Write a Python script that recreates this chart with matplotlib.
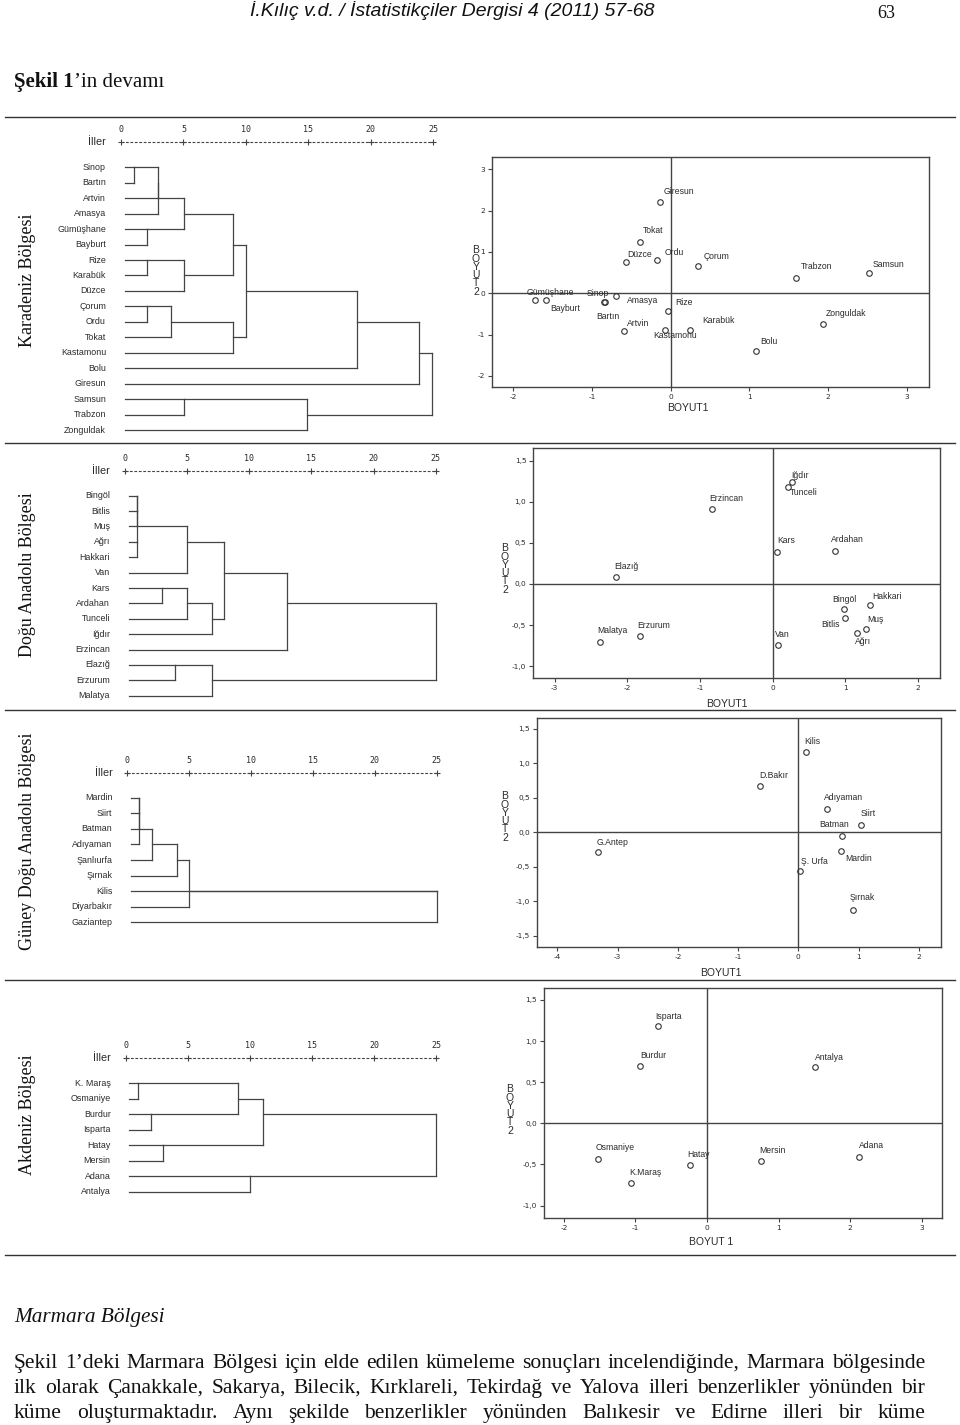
import matplotlib
matplotlib.use('Agg')
import matplotlib.pyplot as plt
from matplotlib.transforms import offset_copy

W, H = 960, 1425
LINE = '#444444'
INK = '#2a2a2a'

# ---------------- data ----------------
# Karadeniz
kd_leaves = ['Sinop', 'Bartın', 'Artvin', 'Amasya', 'Gümüşhane', 'Bayburt', 'Rize',
             'Karabük', 'Düzce', 'Çorum', 'Ordu', 'Tokat', 'Kastamonu', 'Bolu',
             'Giresun', 'Samsun', 'Trabzon', 'Zonguldak']
# (node a, node b, distance) ; leaves are 0..n-1, merge k becomes node n+k
kd_merges = [(0, 1, 1.04), (18, 2, 2.99), (19, 3, 2.99), (4, 5, 2.05), (20, 21, 5.04),
             (6, 7, 2.05), (23, 8, 5.04), (22, 24, 8.99), (9, 10, 2.05), (26, 11, 4.0),
             (27, 12, 8.99), (25, 28, 9.98), (29, 13, 18.92), (30, 14, 23.85),
             (15, 16, 5.04), (32, 17, 14.91), (31, 33, 24.87)]
kd_names = ['Giresun', 'Tokat', 'Düzce', 'Ordu', 'Çorum', 'Trabzon', 'Samsun', 'Gümüşhane',
            'Bayburt', 'Sinop', 'Bartın', 'Amasya', 'Rize', 'Artvin', 'Kastamonu',
            'Karabük', 'Bolu', 'Zonguldak']
kd_x = [-0.13, -0.39, -0.57, -0.18, 0.35, 1.59, 2.52, -1.73, -1.59, -0.85, -0.84, -0.70,
        -0.04, -0.59, -0.07, 0.24, 1.09, 1.94]
kd_y = [2.20, 1.25, 0.76, 0.81, 0.65, 0.36, 0.48, -0.17, -0.17, -0.20, -0.21, -0.06,
        -0.44, -0.92, -0.90, -0.90, -1.40, -0.75]

# Dogu Anadolu
da_leaves = ['Bingöl', 'Bitlis', 'Muş', 'Ağrı', 'Hakkari', 'Van', 'Kars', 'Ardahan',
             'Tunceli', 'Iğdır', 'Erzincan', 'Elazığ', 'Erzurum', 'Malatya']
da_merges = [(0, 1, 0.99), (3, 4, 0.99), (14, 2, 0.99), (16, 15, 0.99), (17, 5, 5.02),
             (6, 7, 3.0), (19, 8, 5.02), (20, 9, 7.03), (18, 21, 7.99), (22, 10, 13.0),
             (11, 12, 4.02), (24, 13, 7.03), (23, 25, 25.0)]
da_names = ['Iğdır', 'Tunceli', 'Erzincan', 'Kars', 'Ardahan', 'Elazığ', 'Bingöl', 'Hakkari',
            'Bitlis', 'Muş', 'Ağrı', 'Van', 'Erzurum', 'Malatya']
da_x = [0.26, 0.21, -0.83, 0.06, 0.86, -2.16, 0.98, 1.34, 1.00, 1.28, 1.16, 0.08, -1.82, -2.37]
da_y = [1.24, 1.18, 0.91, 0.39, 0.40, 0.09, -0.30, -0.26, -0.42, -0.55, -0.60, -0.74, -0.63, -0.71]

# Guney Dogu Anadolu
gd_leaves = ['Mardin', 'Siirt', 'Batman', 'Adıyaman', 'Şanlıurfa', 'Şırnak', 'Kilis',
             'Diyarbakır', 'Gaziantep']
gd_merges = [(0, 1, 0.97), (9, 2, 0.97), (10, 3, 0.97), (11, 4, 2.02), (12, 5, 3.99),
             (7, 13, 5.01), (6, 14, 25.0), (15, 8, 25.0)]
gd_names = ['Kilis', 'D.Bakır', 'Adıyaman', 'Siirt', 'Batman', 'Mardin', 'G.Antep',
            'Ş. Urfa', 'Şırnak']
gd_x = [0.12, -0.64, 0.48, 1.04, 0.73, 0.70, -3.32, 0.03, 0.90]
gd_y = [1.16, 0.67, 0.34, 0.10, -0.05, -0.27, -0.28, -0.56, -1.12]

# Akdeniz
ak_leaves = ['K. Maraş', 'Osmaniye', 'Burdur', 'Isparta', 'Hatay', 'Mersin', 'Adana', 'Antalya']
ak_merges = [(0, 1, 1.0), (2, 3, 2.04), (8, 9, 9.02), (4, 5, 3.03), (10, 11, 11.03),
             (6, 7, 10.0), (12, 13, 25.0)]
ak_names = ['Isparta', 'Burdur', 'Antalya', 'Osmaniye', 'K.Maraş', 'Hatay', 'Mersin', 'Adana']
ak_x = [-0.68, -0.93, 1.51, -1.53, -1.06, -0.24, 0.76, 2.13]
ak_y = [1.18, 0.70, 0.69, -0.43, -0.73, -0.51, -0.46, -0.41]

regions = ['Karadeniz Bölgesi', 'Doğu Anadolu Bölgesi', 'Güney Doğu Anadolu Bölgesi',
           'Akdeniz Bölgesi']

# label offsets (pixels, left edge / vertical centre relative to the point, y down)
kd_off = [(3, -10.7), (2.3, -10.7), (1.7, -7.3), (8.3, -7.7), (5.3, -9.7), (5, -12),
          (3.3, -9), (-8, -7.7), (4.7, 7.7), (-17.3, -7.7), (-8, 15), (11, 4.3),
          (7.3, -8.7), (3, -8), (-11.7, 4.7), (12.7, -10), (3.7, -10), (2.3, -11)]
da_off = [(0, -6), (1.7, 6), (-3.3, -10.3), (0, -11.7), (-4.3, -11.3), (-1.3, -9.7),
          (-11.7, -9.3), (2.7, -8.7), (-23.7, 6.3), (1.7, -10), (-2.3, 7.7), (-3, -10),
          (-2.7, -10.7), (-3, -11.7)]
gd_off = [(-1.3, -11), (-0.7, -10.3), (-3.7, -11), (-0.7, -11.7), (-22.7, -11), (4.3, 7.7),
          (-1.3, -9), (0.7, -9.3), (-3.3, -12)]
ak_off = [(-3.3, -9.3), (-0.7, -10), (0, -9), (-1.7, -11), (-2, -10.7), (-2.3, -10.7),
          (-2.3, -10.3), (0, -11.7)]

fig = plt.figure(figsize=(W / 100, H / 100), dpi=100)


def px_axes(x0, y0, x1, y1):
    return fig.add_axes([x0 / W, 1 - y1 / H, (x1 - x0) / W, (y1 - y0) / H])


def ftext(x, y, s, **kw):
    return fig.text(x / W, 1 - y / H, s, **kw)


def draw_dendro(box, leaves, merges):
    x0, x25, y_first, y_last = box
    n = len(leaves)
    ax = px_axes(x0, y_first, x25, y_last)
    ax.set_xlim(0, 25)
    ax.set_ylim(n - 1, 0)
    ax.axis('off')
    rows = list(range(n))
    ends = [0.3] * n
    for a, b, h in merges:
        ra, rb = rows[a], rows[b]
        for node, r in ((a, ra), (b, rb)):
            ax.plot([ends[node], h], [r, r], color=LINE, lw=0.9, clip_on=False)
        ax.plot([h, h], [ra, rb], color=LINE, lw=0.9, clip_on=False)
        rows.append(ra + int((rb - ra) / 2))
        ends.append(h)
    for i, name in enumerate(leaves):
        ax.annotate(name, (0, i), xytext=(-15, 0), textcoords='offset pixels',
                    ha='right', va='center', fontsize=6.4, color=INK,
                    family='Liberation Sans')
    ticks = [0, 5, 10, 15, 20, 25]
    tr = offset_copy(ax.transData, fig=fig, x=0, y=25, units='dots')
    ax.plot([0, 25], [0, 0], color=LINE, lw=0.8, ls=(0, (2.5, 1.5)),
            transform=tr, clip_on=False)
    ax.plot(ticks, [0] * 6, '+', color=LINE, ms=5, mew=0.8, transform=tr, clip_on=False)
    for t in ticks:
        ax.annotate(str(t), (t, 0), xytext=(0, 37.5), textcoords='offset pixels',
                    ha='center', va='center', fontsize=6, color=INK,
                    family='DejaVu Sans Mono')
    ax.annotate('İller', (0, 0), xytext=(-15, 25), textcoords='offset pixels',
                ha='right', va='center', fontsize=7.8, color=INK, family='Liberation Sans')


def draw_scatter(box, xlim, ylim, xticks, yticks, ylabels, names, xs, ys, offs,
                 xlab, xlab_pos, ylab_pos):
    ax = px_axes(*box)
    ax.set_xlim(xlim)
    ax.set_ylim(ylim)
    ax.axhline(0, color=LINE, lw=1.0)
    ax.axvline(0, color=LINE, lw=1.0)
    ax.plot(xs, ys, 'o', mfc='none', mec='#333333', ms=4, mew=0.8)
    for name, x, y, (dx, dy) in zip(names, xs, ys, offs):
        ax.annotate(name, (x, y), xytext=(dx, -dy), textcoords='offset pixels',
                    ha='left', va='center', fontsize=6.2, color=INK, family='Liberation Sans')
    ax.set_xticks(xticks)
    ax.set_xticklabels([str(t) for t in xticks])
    ax.set_yticks(yticks)
    ax.set_yticklabels(ylabels)
    ax.tick_params(length=3, width=0.8, labelsize=5.3, pad=2, colors=LINE,
                   labelcolor=INK)
    for sp in ax.spines.values():
        sp.set_color(LINE)
        sp.set_linewidth(1.0)
    ftext(xlab_pos[0], xlab_pos[1], xlab, ha='center', va='center', fontsize=7.5,
          color=INK, family='Liberation Sans')
    ftext(ylab_pos[0], ylab_pos[1], 'B\nO\nY\nU\nT\n2', ha='center', va='center',
          fontsize=7.5, linespacing=0.78, color=INK, family='Liberation Sans')


# dendrograms
draw_dendro((121, 433.3, 167.3, 430), kd_leaves, kd_merges)
draw_dendro((125, 435.7, 495.7, 695.7), da_leaves, da_merges)
draw_dendro((127.3, 436.7, 797.7, 922.3), gd_leaves, gd_merges)
draw_dendro((125.7, 436, 1083.3, 1191.7), ak_leaves, ak_merges)


def comma(vals):
    return [('%.1f' % v).replace('.', ',') for v in vals]


draw_scatter((492.3, 156.7, 929.3, 387.3), (-2.267, 3.286), (-2.276, 3.307),
             [-2, -1, 0, 1, 2, 3], [-2, -1, 0, 1, 2, 3], ['-2', '-1', '0', '1', '2', '3'],
             kd_names, kd_x, kd_y, kd_off, 'BOYUT1', (688, 408), (476, 271))
yt = [-1.0, -0.5, 0.0, 0.5, 1.0, 1.5]
draw_scatter((533.3, 448.3, 940, 678.3), (-3.294, 2.303), (-1.147, 1.649),
             [-3, -2, -1, 0, 1, 2], yt, comma(yt),
             da_names, da_x, da_y, da_off, 'BOYUT1', (727, 704), (505, 569))
yt3 = [-1.5, -1.0, -0.5, 0.0, 0.5, 1.0, 1.5]
draw_scatter((536.7, 717.7, 940.7, 947.3), (-4.344, 2.363), (-1.667, 1.662),
             [-4, -3, -2, -1, 0, 1, 2], yt3, comma(yt3),
             gd_names, gd_x, gd_y, gd_off, 'BOYUT1', (721, 973), (505, 817))
draw_scatter((544, 987.7, 941.7, 1218.3), (-2.279, 3.281), (-1.154, 1.648),
             [-2, -1, 0, 1, 2, 3], yt, comma(yt),
             ak_names, ak_x, ak_y, ak_off, 'BOYUT 1', (711, 1242), (510, 1110))

# page frame lines
for yy in [117, 443, 710, 980, 1255]:
    fig.add_artist(plt.Line2D([5 / W, 955 / W], [1 - yy / H, 1 - yy / H],
                              color='#333333', lw=1.0))

# region titles
for name, yc in zip(regions, [280, 575, 841, 1115]):
    ftext(28, yc, name, rotation=90, ha='center', va='center', fontsize=13,
          family='Liberation Serif', color='#111111')

# header
ftext(452, 11, 'İ.Kılıç v.d. / İstatistikçiler Dergisi 4 (2011) 57-68', ha='center',
      va='center', fontsize=14, style='italic', family='Liberation Sans', color='#111111')
ftext(886, 14, '63', ha='center', va='center', fontsize=13, family='Liberation Serif',
      color='#111111')

r = fig.canvas.get_renderer()
t1 = ftext(14, 87, 'Şekil 1', ha='left', va='baseline', fontsize=15, weight='bold',
           family='Liberation Serif', color='#111111')
w1 = t1.get_window_extent(r).width
ftext(14 + w1, 87, '’in devamı', ha='left', va='baseline', fontsize=15,
      family='Liberation Serif', color='#111111')

ftext(14, 1322, 'Marmara Bölgesi', ha='left', va='baseline', fontsize=15.3, style='italic',
      family='Liberation Serif', color='#111111')

para = ['Şekil 1’deki Marmara Bölgesi için elde edilen kümeleme sonuçları incelendiğinde, Marmara bölgesinde',
        'ilk olarak Çanakkale, Sakarya, Bilecik, Kırklareli, Tekirdağ ve Yalova illeri benzerlikler yönünden bir',
        'küme oluşturmaktadır. Aynı şekilde benzerlikler yönünden Balıkesir ve Edirne illeri bir küme']
for line, yy in zip(para, [1368, 1393, 1418]):
    words = line.split()
    ts = [ftext(0, yy, wd, ha='left', va='baseline', fontsize=15.5, family='Liberation Serif',
                color='#111111') for wd in words]
    ws = [t.get_window_extent(r).width for t in ts]
    gap = (925 - 14 - sum(ws)) / (len(words) - 1)
    x = 14
    for t, w in zip(ts, ws):
        t.set_x(x / W)
        x += w + gap

fig.savefig('out.png', dpi=100)
